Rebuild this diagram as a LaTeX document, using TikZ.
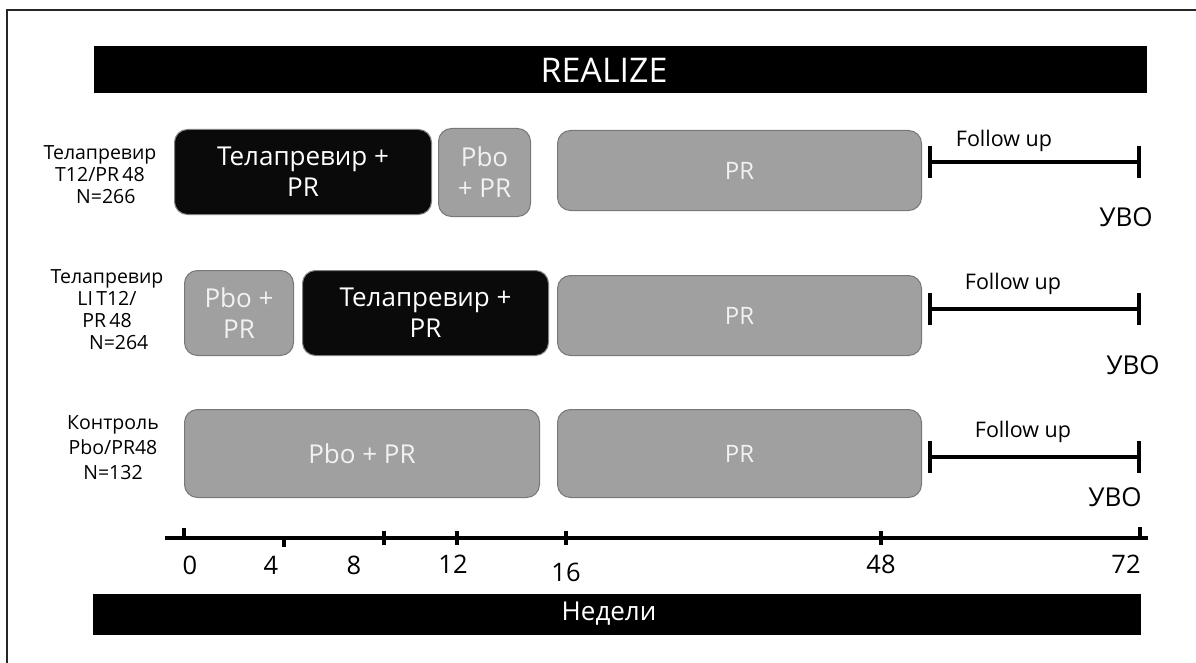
\documentclass[tikz,border=0pt]{standalone}
\usepackage{fontspec}
\setmainfont{Open Sans}
\definecolor{boxgray}{HTML}{A0A0A0}
\definecolor{edgegray}{HTML}{787878}
\definecolor{txtw}{HTML}{F2F2F2}
\begin{document}
\begin{tikzpicture}[x=1pt,y=-1pt,
  gbox/.style={draw=edgegray, line width=1pt, fill=boxgray, rounded corners=13pt,
    text=txtw, align=center, inner sep=0pt, anchor=north west,
    font=\fontsize{26}{31}\selectfont},
  bbox/.style={gbox, fill=black!96, draw=gray, text=white},
  lbl/.style={align=center, font=\fontsize{19.5}{22}\selectfont, inner sep=0pt},
  fu/.style={line width=4pt},
  futxt/.style={font=\fontsize{21.5}{24}\selectfont, inner sep=0pt},
  uvo/.style={font=\fontsize{26}{30}\selectfont, inner sep=0pt},
  num/.style={font=\fontsize{25.5}{28}\selectfont, inner sep=0pt},
  bar/.style={fill=black, inner sep=0pt, anchor=north west},
  bartxt/.style={text=white, inner sep=0pt}]
\useasboundingbox (0,0) rectangle (1196,663);
\fill[white] (0,0) rectangle (1196,663);
% frame (top and left only)
\draw[line width=1.5pt, black!85] (7,663) -- (7,10) -- (1196,10);
% title bar
\node[bar, minimum width=1053pt, minimum height=47pt] (title) at (94,46) {};
\node[bartxt, font=\fontsize{34}{36}\selectfont] (titletxt) at (604,70) {REALIZE};
% bottom bar
\node[bar, minimum width=1048pt, minimum height=41pt] (weeks) at (93,594) {};
\node[bartxt, font=\fontsize{26}{28}\selectfont] (weekstxt) at (609,614) {Недели};

% row labels
\node[lbl] (l1) at (100,175) {Телапревир\\T12/PR\,48\\\hspace{0.6em}N=266};
\node[lbl] (l2) at (107,310) {Телапревир\\LI\,T12/\\PR\,48\hspace{0.4em}\\\hspace{1.2em}N=264};
\node[lbl, font=\fontsize{19.5}{25}\selectfont] (l3) at (113,448) {Контроль\\Pbo/PR48\\N=132};

% row 1
\node[bbox, minimum width=257pt, minimum height=85pt] (r1a) at (174,129) {Телапревир +\hspace{0.5em}\\PR\hspace{0.3em}};
\node[gbox, minimum width=92pt, minimum height=88pt] (r1b) at (438,128) {Pbo\\+ PR};
\node[gbox, minimum width=364pt, minimum height=80pt, font=\fontsize{24}{28}\selectfont] (r1c) at (557,130) {PR};
% row 2
\node[gbox, minimum width=109pt, minimum height=85pt] (r2a) at (184,270) {Pbo +\\PR};
\node[bbox, minimum width=246pt, minimum height=85pt] (r2b) at (302,270) {Телапревир +\\PR};
\node[gbox, minimum width=364pt, minimum height=80pt, font=\fontsize{24}{28}\selectfont] (r2c) at (557,275) {PR};
% row 3
\node[gbox, minimum width=355pt, minimum height=88pt] (r3a) at (184,409) {Pbo + PR};
\node[gbox, minimum width=364pt, minimum height=88pt, font=\fontsize{24}{28}\selectfont] (r3c) at (557,409) {PR};

% follow up
\foreach \i/\y/\tx/\ty/\ux/\uy in {1/162/1004/141/1126/217, 2/309/1013/284/1133/365, 3/457/1023/432/1115/497}{
  \coordinate (fa\i) at (930,\y);
  \coordinate (fb\i) at (1139,\y);
  \draw[fu] (fa\i) -- (fb\i);
  \draw[fu] ([yshift=-16pt]fa\i) -- ([yshift=16pt]fa\i);
  \draw[fu] ([yshift=-16pt]fb\i) -- ([yshift=16pt]fb\i);
  \node[futxt] (ft\i) at (\tx,\ty) {Follow up};
  \node[uvo] (uv\i) at (\ux,\uy) {УВО};
}

% axis
\coordinate (ax0) at (165,538);
\coordinate (ax1) at (1148,538);
\draw[line width=4pt] (ax0) -- (ax1);
\foreach \x/\a/\b in {184/528/538, 284/538/547, 384/531/545, 457/531/545, 566/531/545, 881/531/545, 1140/527/538}{
  \draw[line width=3.5pt] (\x,\a) -- (\x,\b);
}
\node[num] (n0) at (190,565) {0};
\node[num] (n4) at (271,565) {4};
\node[num] (n8) at (354,565) {8};
\node[num] (n12) at (453,564) {12};
\node[num] (n16) at (566,572) {16};
\node[num] (n48) at (881,564) {48};
\node[num] (n72) at (1126,564) {72};
\end{tikzpicture}
\end{document}
